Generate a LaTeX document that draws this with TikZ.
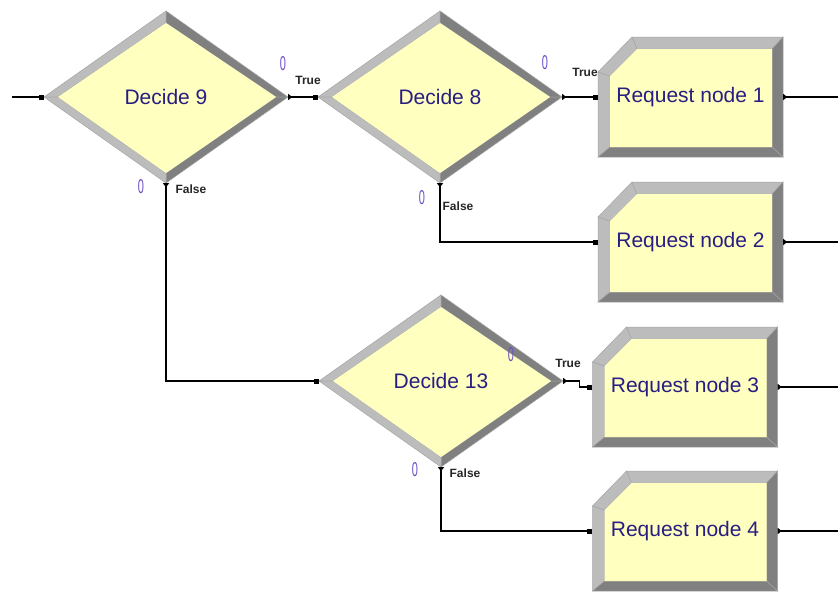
\documentclass[tikz,border=0pt]{standalone}
\usepackage{fontspec}
\usepackage{graphicx}
\setmainfont{Liberation Sans}
\usetikzlibrary{arrows.meta}

\definecolor{modfill}{RGB}{255,255,192}
\definecolor{bevlight}{RGB}{188,188,188}
\definecolor{bevdark}{RGB}{128,128,128}
\definecolor{bevedge}{RGB}{165,165,165}
\definecolor{modtext}{RGB}{40,30,130}
\definecolor{countcol}{RGB}{110,80,200}

\tikzset{
  modlabel/.style={inner sep=0pt, text=modtext, font=\fontsize{21}{21}\selectfont},
  decbox/.style={modlabel, minimum width=244pt, minimum height=172pt},
  reqbox/.style={modlabel, minimum width=185pt, minimum height=120pt},
  lightface/.style={fill=bevlight, draw=bevedge, line width=0.5pt},
  darkface/.style={fill=bevdark, draw=bevedge, line width=0.5pt},
  faceyellow/.style={fill=modfill},
  flow/.style={line width=1.2pt, black, -{Square[length=5pt,width=5pt]}},
  flowout/.style={line width=1.2pt, black,
    {Triangle[reversed,length=4pt,width=6pt]}-{Square[length=5pt,width=5pt]}},
  flowexit/.style={line width=1.2pt, black, {Triangle[reversed,length=4pt,width=6pt]}-},
  branchlabel/.style={inner sep=0pt, text=black!85, font=\fontsize{12}{12}\selectfont\bfseries},
  counter/.style={inner sep=0pt, text=countcol, font=\fontsize{20}{20}\selectfont},
}

% Decide module: bevelled diamond with its label on top
\newcommand\decmod[4]{%
  \begin{scope}[shift={(#2,#3)}]
    \path[lightface] (-122,0) -- (0,-86) -- (0,-74) -- (-108,0) -- cycle;
    \path[darkface]  (0,-86) -- (122,0) -- (110,0) -- (0,-74) -- cycle;
    \path[darkface]  (122,0) -- (0,86) -- (0,76) -- (110,0) -- cycle;
    \path[lightface] (0,86) -- (-122,0) -- (-108,0) -- (0,76) -- cycle;
    \path[faceyellow] (-108,0) -- (0,-74) -- (110,0) -- (0,76) -- cycle;
  \end{scope}
  \node[decbox] (#1) at (#2,#3) {#4};
}

% Request module: bevelled box with a cut top-left corner
\newcommand\reqmod[4]{%
  \begin{scope}[shift={(#2-92.5,#3-60)}]
    \path[lightface] (0,35) -- (0,120) -- (12,110) -- (12,39) -- cycle;
    \path[lightface] (0,35) -- (34,0) -- (39,12) -- (12,39) -- cycle;
    \path[lightface] (34,0) -- (185,0) -- (174,12) -- (39,12) -- cycle;
    \path[darkface]  (185,0) -- (185,120) -- (174,110) -- (174,12) -- cycle;
    \path[darkface]  (0,120) -- (185,120) -- (174,110) -- (12,110) -- cycle;
    \path[faceyellow] (12,39) -- (39,12) -- (174,12) -- (174,110) -- (12,110) -- cycle;
  \end{scope}
  \node[reqbox] (#1) at (#2,#3) {#4};
}

\newcommand\zerocount{\scalebox{0.55}[1]{0}}

\begin{document}
\begin{tikzpicture}[x=1pt,y=-1pt]
  \useasboundingbox[fill=white] (0,0) rectangle (838,592);

  % modules
  \decmod{d9}{166}{97}{Decide 9}
  \decmod{d8}{440}{97}{Decide 8}
  \decmod{d13}{441}{381}{Decide 13}
  \reqmod{r1}{690.5}{97}{Request node 1}
  \reqmod{r2}{690.5}{242}{Request node 2}
  \reqmod{r3}{685}{387}{Request node 3}
  \reqmod{r4}{685}{531}{Request node 4}

  % loose ends of the flow
  \coordinate (in0) at (12,97);
  \coordinate (out1) at (838,97);
  \coordinate (out2) at (838,242);
  \coordinate (out3) at (838,387);
  \coordinate (out4) at (838,531);

  % connectors
  \draw[flow] (in0) -- (d9.west);
  \draw[flowout] (d9.east) -- (d8.west);
  \draw[flowout] (d8.east) -- (r1.west);
  \draw[flowout] (d9.south) |- (d13.west);
  \draw[flowout] (d8.south) |- (r2.west);
  \draw[flowout] (d13.east) -- ++(16,0) |- (r3.west);
  \draw[flowout] (d13.south) |- (r4.west);
  \draw[flowexit] (r1.east) -- (out1);
  \draw[flowexit] (r2.east) -- (out2);
  \draw[flowexit] (r3.east) -- (out3);
  \draw[flowexit] (r4.east) -- (out4);

  % branch labels
  \node[branchlabel] (t9) at (308,80) {True};
  \node[branchlabel] (t8) at (585,72) {True};
  \node[branchlabel] (t13) at (568,363) {True};
  \node[branchlabel] (f9) at (191,189) {False};
  \node[branchlabel] (f8) at (458,206) {False};
  \node[branchlabel] (f13) at (465,473) {False};

  % entity counters
  \node[counter] (c9t) at (283,64) {\zerocount};
  \node[counter] (c9f) at (141,187) {\zerocount};
  \node[counter] (c8t) at (545,63) {\zerocount};
  \node[counter] (c8f) at (422,198) {\zerocount};
  \node[counter] (c13t) at (511,355) {\zerocount};
  \node[counter] (c13f) at (415,470) {\zerocount};
\end{tikzpicture}
\end{document}
